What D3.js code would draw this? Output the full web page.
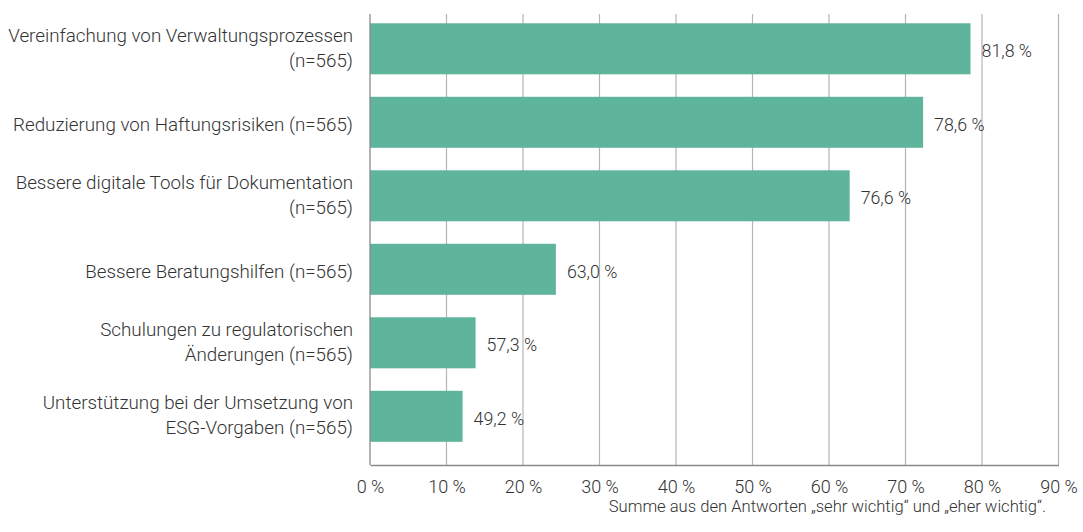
<!DOCTYPE html>
<html><head><meta charset="utf-8">
<script src="https://cdn.jsdelivr.net/npm/d3@7"></script>
<style>
html,body{margin:0;padding:0;background:#fff;}
svg{display:block;}
text{font-family:Roboto,"Noto Sans",sans-serif;fill:#333;}
</style></head>
<body>
<svg id="chart" width="1083" height="532"></svg>
<script>
const categories = [
  ["Vereinfachung von Verwaltungsprozessen", "(n=565)"],
  ["Reduzierung von Haftungsrisiken (n=565)"],
  ["Bessere digitale Tools für Dokumentation", "(n=565)"],
  ["Bessere Beratungshilfen (n=565)"],
  ["Schulungen zu regulatorischen", "Änderungen (n=565)"],
  ["Unterstützung bei der Umsetzung von", "ESG-Vorgaben (n=565)"]
];
// bar lengths as drawn in the picture
const barValues = [78.5, 72.3, 62.7, 24.3, 13.8, 12.1];
// value labels as printed in the picture
const valueLabels = ["81,8 %", "78,6 %", "76,6 %", "63,0 %", "57,3 %", "49,2 %"];
const tickValues = [0, 10, 20, 30, 40, 50, 60, 70, 80, 90];
const footnote = "Summe aus den Antworten „sehr wichtig“ und „eher wichtig“.";

const svg = d3.select("#chart");
const x = d3.scaleLinear().domain([0, 90]).range([370, 1058.5]);
const y = d3.scaleBand().domain(d3.range(categories.length))
  .range([14, 465]).paddingInner(0.306).paddingOuter(0.221).align(0.286);

// gridlines
svg.append("g").selectAll("line").data(tickValues.slice(1)).join("line")
  .attr("x1", d => x(d)).attr("x2", d => x(d))
  .attr("y1", 14).attr("y2", 465)
  .attr("stroke", "#b5b5b5").attr("stroke-width", 1.2);

// bars
svg.append("g").selectAll("rect").data(barValues).join("rect")
  .attr("x", x(0)).attr("y", (d, i) => y(i))
  .attr("width", d => x(d) - x(0)).attr("height", y.bandwidth())
  .attr("fill", "#5fb49c");

// left axis line
svg.append("line").attr("x1", x(0)).attr("x2", x(0)).attr("y1", 14).attr("y2", 465)
  .attr("stroke", "#8a8a8a").attr("stroke-width", 1.3);

// bottom axis
const xAxis = d3.axisBottom(x).tickValues(tickValues).tickSize(0).tickPadding(0)
  .tickFormat(d => d + " %");
const gx = svg.append("g").attr("transform", "translate(0,465)").call(xAxis);
gx.select(".domain").attr("stroke", "#8a8a8a").attr("stroke-width", 1.3);
gx.selectAll("text").attr("dy", null).attr("y", 28)
  .style("font-size", "18px").style("font-weight", 300).attr("fill", "#333");

// category labels
const cl = svg.append("g").selectAll("text").data(categories).join("text")
  .attr("text-anchor", "end")
  .style("font-size", "18.8px").style("font-weight", 300);
cl.each(function(lines, i) {
  const c = y(i) + y.bandwidth() / 2;
  const t = d3.select(this);
  lines.forEach((ln, k) => {
    t.append("tspan").attr("x", 353)
      .attr("y", c + 9 - (lines.length - 1) * 16 + k * 25)
      .text(ln);
  });
});

// value labels
svg.append("g").selectAll("text").data(barValues).join("text")
  .attr("x", d => x(d) + 11)
  .attr("y", (d, i) => y(i) + y.bandwidth() / 2 + 8.6)
  .style("font-size", "17.8px").style("font-weight", 300)
  .text((d, i) => valueLabels[i]);

// footnote
svg.append("text").attr("x", 1046).attr("y", 512).attr("text-anchor", "end")
  .style("font-size", "16.6px").style("font-weight", 300)
  .text(footnote);
</script>
</body></html>
